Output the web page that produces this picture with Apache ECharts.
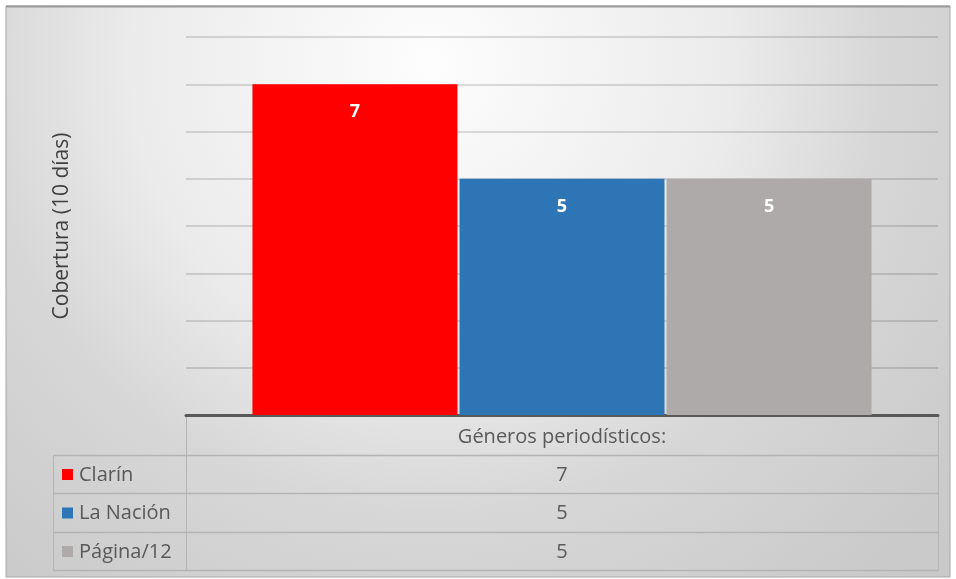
<!DOCTYPE html>
<html><head><meta charset="utf-8">
<script src="https://cdn.jsdelivr.net/npm/echarts@6/dist/echarts.min.js"></script>
<style>html,body{margin:0;padding:0;background:#fff}#c{width:956px;height:579px}</style>
</head><body><div id="c"></div>
<script>
const categories = ['Géneros periodísticos:'];
const seriesNames = ['Clarín', 'La Nación', 'Página/12'];
const clarin = [7];
const laNacion = [5];
const pagina12 = [5];
const seriesValues = [clarin, laNacion, pagina12];
const colors = ['#ff0000', '#2e75b6', '#aeaaaa'];
const yTitle = 'Cobertura (10 días)';

const W = 956, H = 579;
const gL = 186, gR = 938, gT = 37, gB = 415;
const tableLeft = 53;
const rowH = [40, 38, 39, 38];
const FONT = '"Open Sans", "Noto Sans", sans-serif';
const txtColor = '#595959';
const lineColor = '#b4b4b4';

const chart = echarts.init(document.getElementById('c'));

const g = [];
g.push({type:'rect', z:-10, silent:true, shape:{x:6,y:6,width:944,height:571},
  style:{fill:new echarts.graphic.RadialGradient(0.45,0.1,1.25,[
    {offset:0,color:'#fdfdfd'},{offset:0.42,color:'#ebebeb'},{offset:0.63,color:'#d7d7d7'},{offset:0.91,color:'#cbcbcb'},{offset:1,color:'#c9c9c9'}]),
    stroke:'#a6a6a6', lineWidth:1}});
g.push({type:'line', z:-9, shape:{x1:6,y1:6.5,x2:950,y2:6.5}, style:{stroke:'#9a9a9a', lineWidth:2}});

// table
let y = gB;
const rowsY = [y];
for (const h of rowH) { y += h; rowsY.push(y); }
g.push({type:'line', shape:{x1:gL+0.5,y1:gB,x2:gL+0.5,y2:rowsY[4]}, style:{stroke:lineColor,lineWidth:1}});
g.push({type:'line', shape:{x1:gR+0.5,y1:gB,x2:gR+0.5,y2:rowsY[4]}, style:{stroke:lineColor,lineWidth:1}});
g.push({type:'line', shape:{x1:tableLeft+0.5,y1:rowsY[1],x2:tableLeft+0.5,y2:rowsY[4]}, style:{stroke:lineColor,lineWidth:1}});
for (let i = 1; i <= 4; i++) {
  g.push({type:'line', shape:{x1:tableLeft,y1:rowsY[i]+0.5,x2:gR+1,y2:rowsY[i]+0.5}, style:{stroke:lineColor,lineWidth:1.5}});
}
const midX = (gL + gR) / 2;
g.push({type:'text', style:{text:categories[0], x:midX, y:(rowsY[0]+rowsY[1])/2+2, align:'center', verticalAlign:'middle', font:'20px '+FONT, fill:txtColor}});
for (let i = 0; i < seriesNames.length; i++) {
  const cy = (rowsY[i+1]+rowsY[i+2])/2 + 1;
  g.push({type:'rect', shape:{x:62, y:cy-6, width:11, height:11}, style:{fill:colors[i]}});
  g.push({type:'text', style:{text:seriesNames[i], x:79, y:cy, align:'left', verticalAlign:'middle', font:'20px '+FONT, fill:txtColor}});
  g.push({type:'text', style:{text:String(seriesValues[i][0]), x:midX, y:cy, align:'center', verticalAlign:'middle', font:'20px '+FONT, fill:txtColor}});
}

chart.setOption({
  animation:false,
  backgroundColor:'transparent',
  grid:{left:gL, right:W-gR, top:gT, bottom:H-gB, containLabel:false},
  graphic:g,
  xAxis:{type:'category', data:categories, axisTick:{show:false}, axisLabel:{show:false},
    axisLine:{lineStyle:{color:'#595959', width:3}}},
  yAxis:{type:'value', min:0, max:8, interval:1,
    name:yTitle, nameLocation:'middle', nameGap:113, nameRotate:90,
    nameTextStyle:{fontFamily:FONT, fontSize:21, color:'#404040'},
    axisLine:{show:false}, axisTick:{show:false}, axisLabel:{show:false},
    splitLine:{lineStyle:{color:'rgba(0,0,0,0.13)', width:2}}},
  series: seriesNames.map((n,i)=>({
    name:n, type:'bar', data:seriesValues[i], barWidth:205, barGap:'1%',
    itemStyle:{color:colors[i]},
    label:{show:true, position:'insideTop', distance:19, color:'#fff', fontWeight:'bold', fontSize:18, fontFamily:FONT}
  }))
});
</script></body></html>
